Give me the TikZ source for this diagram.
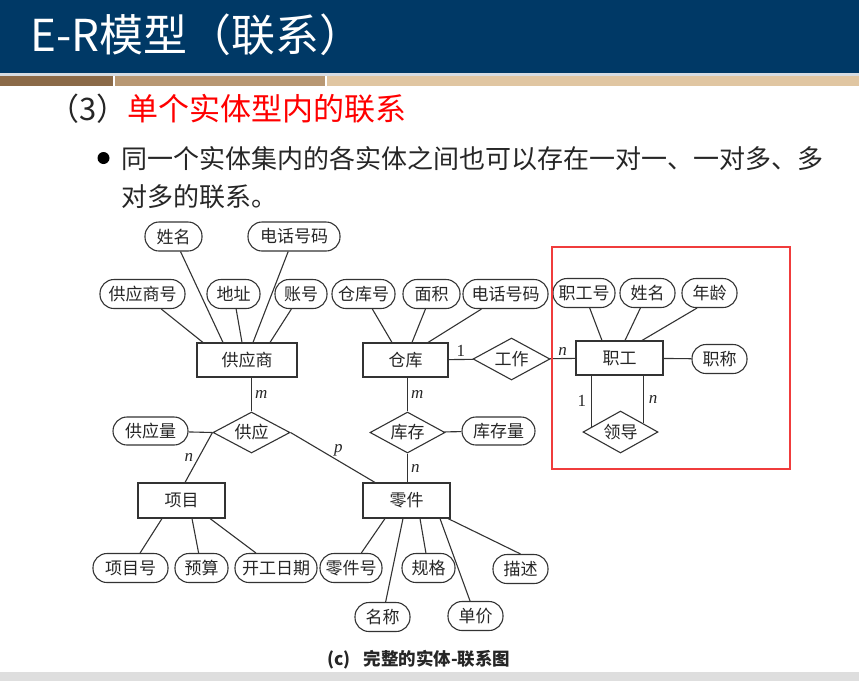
\documentclass[tikz,border=0pt]{standalone}
\usepackage{fontspec}
\setmainfont{Noto Sans CJK SC}
\newfontfamily\cardfont{Liberation Serif}
\usetikzlibrary{calc,positioning,shapes.geometric}

\definecolor{bandblue}{RGB}{0,57,102}
\definecolor{bandline}{RGB}{214,220,226}
\definecolor{stripedark}{RGB}{139,106,72}
\definecolor{stripemid}{RGB}{184,152,115}
\definecolor{stripelight}{RGB}{224,198,162}
\definecolor{footgray}{RGB}{222,222,222}
\definecolor{framered}{RGB}{240,60,60}

\begin{document}
\begin{tikzpicture}[
      x=1pt, y=-1pt,
      every node/.style={font=\fontsize{17}{19}\selectfont, align=center, inner sep=0pt, text=black!85},
      entity/.style={rectangle, draw=black!80, line width=1.1pt,
            minimum width=87pt, minimum height=34pt},
      attrib/.style={rectangle, rounded corners=14pt, draw=black!80, line width=1.1pt,
            minimum width=55pt, minimum height=29pt},
      relation/.style={diamond, aspect=1.8, draw=black!80, line width=1.1pt,
            minimum width=75pt, minimum height=42pt},
      link/.style={draw=black!80, line width=1.1pt},
      card/.style={font=\fontsize{17}{18}\selectfont\cardfont\itshape},
      one/.style={font=\fontsize{17}{18}\selectfont\cardfont}
]
\useasboundingbox (0,0) rectangle (859,681);
\fill[white] (0,0) rectangle (859,681);

% slide header and footer
\fill[bandblue] (0,0) rectangle (859,73);
\fill[bandline] (0,73) rectangle (859,76);
\fill[stripedark] (0,76) rectangle (113,86);
\fill[stripemid] (115,76) rectangle (325,86);
\fill[stripelight] (327,76) rectangle (859,86);
\fill[footgray] (0,672) rectangle (859,681);

\node[anchor=base west, text=white, font=\fontsize{44}{48}\selectfont] (title) at (30,51) {E-R模型（联系）};
\node[anchor=base west, font=\fontsize{31}{34}\selectfont] (sub) at (48,120)
      {（3）\textcolor{red}{单个实体型内的联系}};
\fill[black] (103.5,158) circle (6pt);
\node[anchor=base west, font=\fontsize{26}{30}\selectfont] (text1) at (121,168)
      {同一个实体集内的各实体之间也可以存在一对一、一对多、多};
\node[anchor=base west, font=\fontsize{26}{30}\selectfont] (text2) at (121,206) {对多的联系。};

% entities
\node[entity, minimum width=100pt] (sup) at (247,360) {供应商};
\node[entity, minimum width=85pt] (wh) at (405.5,360) {仓库};
\node[entity] (emp) at (619.5,358) {职工};
\node[entity, minimum height=35pt] (proj) at (181.5,500.5) {项目};
\node[entity, minimum height=35pt] (part) at (406.5,500.5) {零件};

% relationships
\node[relation, minimum width=77pt] (work) at (511.5,359) {工作};
\node[relation, minimum width=77pt, minimum height=41pt] (supply) at (251.5,432.5) {供应};
\node[relation, minimum height=41pt] (store) at (407.5,432.5) {库存};
\node[relation] (lead) at (620.5,432) {领导};

% attributes
\node[attrib, minimum width=57pt] (sname) at (173.5,236.5) {姓名};
\node[attrib, minimum width=92pt] (stel) at (294,236.5) {电话号码};
\node[attrib, minimum width=85pt] (sno) at (142.5,294) {供应商号};
\node[attrib, minimum width=53pt] (saddr) at (233.5,294) {地址};
\node[attrib, minimum width=52pt] (sacct) at (301,294) {账号};
\node[attrib, minimum width=63pt] (whno) at (363.5,294) {仓库号};
\node[attrib, minimum width=57pt] (warea) at (431.5,294) {面积};
\node[attrib, minimum width=85pt] (wtel) at (505.5,294) {电话号码};
\node[attrib, minimum width=62pt] (eno) at (584,293) {职工号};
\node[attrib] (ename) at (647.5,293) {姓名};
\node[attrib] (eage) at (709.5,293) {年龄};
\node[attrib] (etitle) at (719.5,359) {职称};
\node[attrib, minimum width=75pt, minimum height=28pt] (qty) at (150.5,431) {供应量};
\node[attrib, minimum width=73pt, minimum height=28pt] (stock) at (498.5,431) {库存量};
\node[attrib, minimum width=75pt] (pno) at (130.5,568) {项目号};
\node[attrib, minimum width=53pt] (budget) at (201.5,568) {预算};
\node[attrib, minimum width=82pt] (start) at (276,568) {开工日期};
\node[attrib, minimum width=62pt] (partno) at (351,568) {零件号};
\node[attrib, minimum width=53pt] (spec) at (428.5,568) {规格};
\node[attrib] (desc) at (520.5,569) {描述};
\node[attrib] (pname) at (382.5,617) {名称};
\node[attrib] (price) at (475.5,616) {单价};

\node[anchor=base west, font=\fontsize{17.5}{19}\selectfont\bfseries] (caption) at (327,665)
      {(c)\hspace{13pt}完整的实体-联系图};

% attribute links
\draw[link] (sname) -- ([xshift=-24pt]sup.north);
\draw[link] (stel) -- ([xshift=6pt]sup.north);
\draw[link] (sno) -- ([xshift=-44pt]sup.north);
\draw[link] (saddr) -- ([xshift=-5pt]sup.north);
\draw[link] (sacct) -- ([xshift=23pt]sup.north);
\draw[link] (whno) -- ([xshift=-13.5pt]wh.north);
\draw[link] (warea) -- ([xshift=6.5pt]wh.north);
\draw[link] (wtel) -- ([xshift=22.5pt]wh.north);
\draw[link] (eno) -- ([xshift=-17.5pt]emp.north);
\draw[link] (ename) -- ([xshift=5.5pt]emp.north);
\draw[link] ([xshift=-12.5pt]eage.south) -- ([xshift=22.5pt]emp.north);
\draw[link] (emp) -- (etitle);
\draw[link] (qty) -- (supply.west);
\draw[link] (store) -- (stock);
\draw[link] ([xshift=-19.5pt]proj.south) -- (pno);
\draw[link] ([xshift=10.5pt]proj.south) -- (budget);
\draw[link] ([xshift=28.5pt]proj.south) -- (start);
\draw[link] ([xshift=-21.5pt]part.south) -- (partno);
\draw[link] ([xshift=-3.5pt]part.south) -- (pname);
\draw[link] ([xshift=13.5pt]part.south) -- (spec);
\draw[link] ([xshift=33.5pt]part.south) -- (price);
\draw[link] ([xshift=41.5pt]part.south) -- (desc.north);

% relationship links
\draw[link] (wh) -- node[one, above=2pt] {1} (work);
\draw[link] (work) -- node[card, above=2pt] {n} (emp);
\draw[link] (supply.north |- sup.south) -- node[card, right=3pt] {m} (supply.north);
\draw[link] (supply.west) -- node[card, left=5pt] {n} ([xshift=3.5pt]proj.north);
\draw[link] (supply.east) -- node[card, above right=1pt] {p} ([xshift=-31.5pt]part.north);
\draw[link] (store.north |- wh.south) -- node[card, right=3pt] {m} (store.north);
\draw[link] (store.south) -- node[card, right=3pt] {n} (store.south |- part.north);

% recursive relationship
\coordinate (leadL) at ($(lead.west)!0.24!(lead.north)$);
\coordinate (leadR) at ($(lead.east)!0.4!(lead.north)$);
\draw[link] (leadL |- emp.south) -- node[one, left=5pt] {1} (leadL);
\draw[link] (leadR |- emp.south) -- node[card, right=5pt] {n} (leadR);

\draw[framered, line width=1.2pt] (552,247) rectangle (790,469);
\end{tikzpicture}
\end{document}
